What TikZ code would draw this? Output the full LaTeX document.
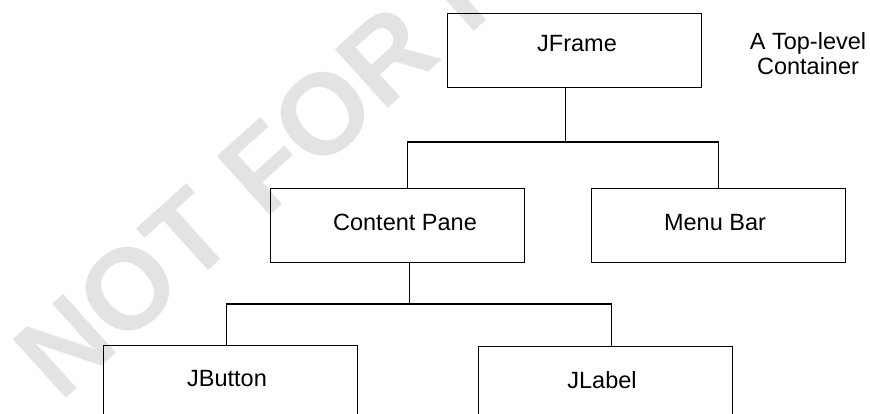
\documentclass[tikz,border=0pt]{standalone}
\usepackage{fontspec}
\setmainfont{Liberation Sans}
\usetikzlibrary{calc}
\begin{document}
\begin{tikzpicture}[x=1pt,y=-1pt,
  box/.style={draw=black, line width=1.4pt, minimum width=254pt,
    minimum height=74pt, inner sep=0pt, anchor=north west},
  tallbox/.style={box, minimum height=100pt},
  lbl/.style={inner sep=0pt, anchor=base, font=\fontsize{23.5}{26}\selectfont},
  wire/.style={draw=black, line width=1.4pt},
  wm/.style={inner sep=0pt, text=black!11, anchor=base west,
    font=\fontsize{115}{115}\selectfont\bfseries}]
\useasboundingbox (0,0) rectangle (870,414);
\clip (0,0) rectangle (870,414);

% watermark behind everything
\node[wm, rotate=42] (wmark) at (60,404) {NOT FOR R};

% boxes
\node[box] (jframe) at (447,13) {};
\node[box] (content) at (270,188) {};
\node[box] (menubar) at (591,188) {};
\node[tallbox] (jbutton) at (103,345) {};
\node[tallbox] (jlabel) at (478,346) {};

% box captions (placed on their baselines)
\node[lbl] (tjframe) at (577,52) {JFrame};
\node[lbl] (tcontent) at (405,231) {Content Pane};
\node[lbl] (tmenubar) at (715,231) {Menu Bar};
\node[lbl] (tjbutton) at (227,386) {JButton};
\node[lbl] (tjlabel) at (602,388) {JLabel};
\node[lbl] (note1) at (808,50) {A Top-level};
\node[lbl] (note2) at (808,75) {Container};

% taps on the boxes
\coordinate (jtap) at ($(jframe.south)+(-9,0)$);
\coordinate (cptop) at ($(content.north)+(10,0)$);
\coordinate (cpbot) at ($(content.south)+(12,0)$);
\coordinate (jbtop) at ($(jbutton.north)+(-4,0)$);
\coordinate (jltop) at ($(jlabel.north)+(6,0)$);
\coordinate (topbus) at (0,142);
\coordinate (lowbus) at (0,304);

% tree connectors
\draw[wire] (jtap) -- (jtap |- topbus);
\draw[wire] (cptop) |- (topbus -| menubar.north) -- (menubar.north);
\draw[wire] (cpbot) -- (cpbot |- lowbus);
\draw[wire] (jbtop) |- (lowbus -| jltop) -- (jltop);
\end{tikzpicture}
\end{document}
